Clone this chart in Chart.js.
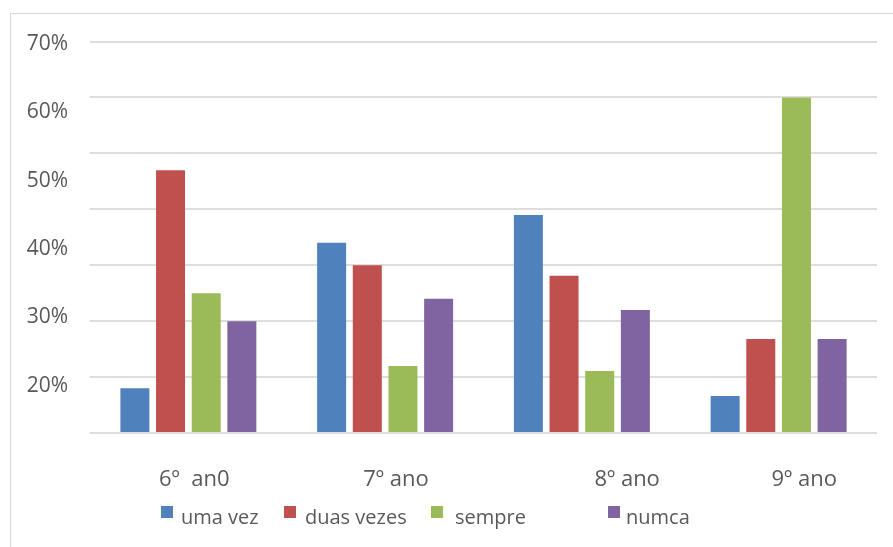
<!DOCTYPE html>
<html>
<head>
<meta charset="utf-8">
<title>Frequência por ano</title>
<script src="https://cdn.jsdelivr.net/npm/chart.js@4.4.1/dist/chart.umd.min.js"></script>
<style>
    html, body { margin: 0; padding: 0; background: #fff; }
    #wrap { position: relative; width: 893px; height: 547px; overflow: hidden; }
    #frame {
        position: absolute; left: 10px; top: 13px; right: -5px; bottom: -5px;
        border-left: 1px solid #d9d9d9; border-top: 1px solid #d9d9d9;
    }
    #chart { position: absolute; left: 0; top: 0; }
    .lg-box { position: absolute; width: 12px; height: 12px; top: 506px; }
    .lg-text {
        position: absolute; top: 503px; line-height: 20px; white-space: pre;
        font: 20px 'Open Sans', sans-serif; color: #595959;
    }
</style>
</head>
<body>
<div id="wrap">
    <div id="frame"></div>
    <canvas id="chart" width="893" height="547"></canvas>
    <div id="legend"></div>
</div>
<script>
// --- Data ---
const categories = ['6º  an0', '7º ano', '8º ano', '9º ano'];
const seriesNames = ['uma vez', 'duas vezes', 'sempre', 'numca'];
const umaVez = [8, 34, 39, 6.6];
const duasVezes = [47, 30, 28.1, 16.8];
const sempre = [25, 12, 11.1, 60];
const numca = [20, 24, 22, 16.8];
const yTickLabels = [20, 30, 40, 50, 60, 70];

// --- Look ---
const colors = ['#4f81bd', '#c0504d', '#9bbb59', '#8064a2'];
const textColor = '#595959';
const fontFamily = "'Open Sans', sans-serif";

// the label layer of the original is offset from the plot, keep that
const labelSlots = [0.53, 1.555, 2.73, 3.63];     // category label centres, in category units
const labelAxisRange = [13.05, 70.37];             // value span of the tick-label layer
const legendLayout = [                              // [box left, text left]
    [161, 181], [284, 305], [431, 455], [608, 626]
];

const seriesValues = [umaVez, duasVezes, sempre, numca];

function buildLegend() {
    const legend = document.getElementById('legend');
    seriesNames.forEach((name, i) => {
        const box = document.createElement('div');
        box.className = 'lg-box';
        box.style.left = legendLayout[i][0] + 'px';
        box.style.background = colors[i];
        legend.appendChild(box);

        const txt = document.createElement('div');
        txt.className = 'lg-text';
        txt.style.left = legendLayout[i][1] + 'px';
        txt.textContent = name;
        legend.appendChild(txt);
    });
}

function initChart() {
    const ctx = document.getElementById('chart').getContext('2d');

    new Chart(ctx, {
        type: 'bar',
        data: {
            labels: categories,
            datasets: seriesNames.map((name, i) => ({
                label: name,
                data: seriesValues[i],
                backgroundColor: colors[i],
                borderWidth: 0,
                xAxisID: 'x',
                yAxisID: 'y',
                categoryPercentage: 0.725,
                barPercentage: 0.813
            }))
        },
        options: {
            responsive: false,
            animation: false,
            layout: { padding: { top: 41.5, right: 16, bottom: 0, left: 0 } },
            plugins: {
                legend: { display: false },
                tooltip: { enabled: false }
            },
            scales: {
                x: {
                    ticks: { display: false },
                    grid: { display: false, drawTicks: false },
                    border: { display: false },
                    afterFit: s => { s.height = 0; s.paddingLeft = 0; s.paddingRight = 0; }
                },
                xl: {
                    type: 'linear',
                    position: 'bottom',
                    offset: false,
                    min: 0,
                    max: 4,
                    grid: { display: false, drawTicks: false, offset: false },
                    border: { display: false },
                    afterBuildTicks: s => { s.ticks = labelSlots.map(v => ({ value: v })); },
                    ticks: {
                        autoSkip: false,
                        maxRotation: 0,
                        padding: 34,
                        color: textColor,
                        font: { family: fontFamily, size: 22 },
                        callback: (v, i) => categories[i]
                    },
                    afterFit: s => { s.height = 114; s.paddingLeft = 0; s.paddingRight = 0; }
                },
                y: {
                    min: 0,
                    max: 70,
                    ticks: { display: false, stepSize: 10 },
                    grid: { color: '#dedede', lineWidth: 2, drawTicks: false },
                    border: { display: false },
                    afterFit: s => { s.width = 0; s.paddingTop = 0; s.paddingBottom = 0; }
                },
                yl: {
                    type: 'linear',
                    position: 'left',
                    min: labelAxisRange[0],
                    max: labelAxisRange[1],
                    grid: { display: false, drawTicks: false },
                    border: { display: false },
                    afterBuildTicks: s => { s.ticks = yTickLabels.map(v => ({ value: v })); },
                    ticks: {
                        padding: 22,
                        color: textColor,
                        font: { family: fontFamily, size: 21 },
                        callback: v => v + '%'
                    },
                    afterFit: s => { s.width = 90; s.paddingTop = 0; s.paddingBottom = 0; }
                }
            }
        }
    });
}

buildLegend();
initChart();
</script>
</body>
</html>
